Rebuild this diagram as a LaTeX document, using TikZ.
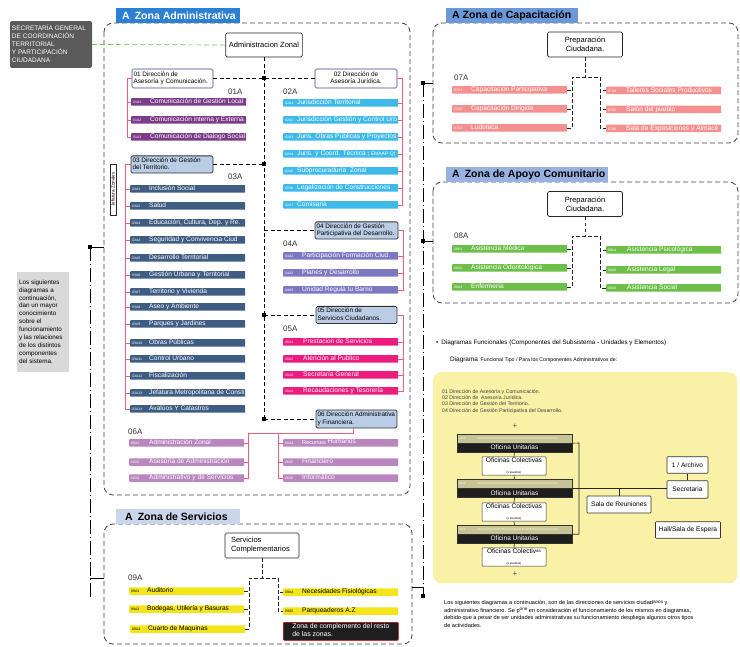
\documentclass[tikz,border=0pt]{standalone}
\usepackage{fontspec}
\setmainfont{Liberation Sans}
\newcommand\fsz[2]{\fontsize{#1pt}{#2pt}\selectfont}
\newcommand\cdf{\fsz{3.5}{4}}
\newcommand\llines[1]{\begin{tabular}{@{}l@{}}#1\end{tabular}}
\newcommand\clines[1]{\begin{tabular}{@{}c@{}}#1\end{tabular}}
\definecolor{cPur}{HTML}{7B3C88}
\definecolor{cCya}{HTML}{3DBAEA}
\definecolor{cNav}{HTML}{3F5D83}
\definecolor{cLav}{HTML}{7C79C2}
\definecolor{cMag}{HTML}{EC1B7D}
\definecolor{cOrc}{HTML}{B986BF}
\definecolor{cYel}{HTML}{F3E51A}
\definecolor{cSal}{HTML}{F4918F}
\definecolor{cGrn}{HTML}{6DBF49}
\definecolor{cLbl}{HTML}{B9CDE5}
\definecolor{cPnk}{HTML}{F0607E}
\definecolor{cT1}{HTML}{2C80D3}
\definecolor{cT2}{HTML}{6B98D8}
\definecolor{cT3}{HTML}{97B2E0}
\definecolor{cT4}{HTML}{C9D5EA}
\definecolor{cSec}{HTML}{5A5A5A}
\definecolor{cGry}{HTML}{D9D9D9}
\definecolor{cPale}{HTML}{F8F1A6}
\definecolor{cKha}{HTML}{C8C394}
\definecolor{cDk}{HTML}{1E1E1E}
\definecolor{cGL}{HTML}{6CBF4A}
\definecolor{cBor}{HTML}{3B3B99}
\definecolor{cZone}{HTML}{444444}
\definecolor{cTxt}{HTML}{333333}
\newcommand\bitem[7][17pt]{\node[bar,fill=#5] (#2) at (#3,#4) {\makebox[111pt][l]{\makebox[#1][l]{\cdf #6}#7}};}
\begin{document}
\begin{tikzpicture}[x=1pt,y=-1pt,
  bar/.style={anchor=west,minimum height=7.5pt,inner xsep=2pt,inner ysep=0pt,text=white,font=\fsz{6.6}{7},rounded corners=0.6pt,text height=4.7pt,text depth=1.3pt},
  dbox/.style={draw=cBor,line width=0.6pt,fill=white,rounded corners=1.5pt,font=\fsz{6.4}{7.4},inner xsep=1.5pt,inner ysep=1.2pt},
  lbox/.style={dbox,fill=cLbl,draw=black!80,line width=0.8pt},
  wbox/.style={draw=black!85,line width=0.7pt,fill=white,rounded corners=1.5pt,font=\fsz{7.5}{8.6}},
  zone/.style={draw=cZone,line width=0.8pt,dash pattern=on 5pt off 3pt,rounded corners=9pt},
  ttl/.style={anchor=north west,inner sep=0pt,minimum height=15pt,font=\bfseries\fsz{10.5}{12}},
  adl/.style={draw=black,line width=0.7pt,dash pattern=on 4pt off 2.5pt},
  sdl/.style={draw=black!85,line width=0.6pt,dash pattern=on 3.5pt off 2.5pt},
  pk/.style={draw=cPnk,line width=0.7pt},
  gline/.style={draw=cGL,line width=0.7pt,dash pattern=on 5pt off 3pt},
  dd/.style={draw=black,line width=0.8pt,dash pattern=on 14pt off 3pt on 1pt off 3pt},
  solid1/.style={draw=black,line width=0.8pt},
  sq/.style={fill=black,minimum size=4pt,inner sep=0pt},
  grp/.style={anchor=west,inner sep=0pt,font=\fsz{8}{9},text=cTxt},
  ofb/.style={draw=black!80,line width=0.5pt,fill=white,align=center,inner sep=1pt,minimum width=64pt,minimum height=18pt,rounded corners=0.8pt},
  outop/.style={draw=black!80,line width=0.5pt,fill=cKha,minimum width=115pt,minimum height=9pt,inner sep=0pt,font=\fsz{3.2}{3.5},text=white!92!yellow},
  oubot/.style={draw=black!80,line width=0.5pt,fill=cDk,minimum width=115pt,minimum height=9pt,inner sep=0pt,font=\fsz{6.5}{7},text=white},
  ln/.style={draw=black!85,line width=0.6pt},
  rbox/.style={draw=black!80,line width=0.6pt,fill=white,font=\fsz{6.6}{7.6},inner sep=1pt,rounded corners=0.8pt},
]
\useasboundingbox (0,0) rectangle (740,647);

% ---------- zones ----------
\draw[zone] (104,23) rectangle (410,495);
\draw[zone] (433,23) rectangle (738,143);
\draw[zone] (433,182) rectangle (738,303);
\draw[zone] (104,524) rectangle (412,644);

\node[ttl,fill=cT1,text=white] (t1) at (116,8) {\makebox[124pt][l]{\hspace{6pt}A\hspace{5pt}Zona Administrativa}};
\node[ttl,fill=cT2] (t2) at (446,8) {\makebox[132pt][l]{\hspace{6pt}A Zona de Capacitación}};
\node[ttl,fill=cT3] (t3) at (446,167) {\makebox[162pt][l]{\hspace{6pt}A\hspace{5pt}Zona de Apoyo Comunitario}};
\node[ttl,fill=cT4] (t4) at (116,509) {\makebox[124pt][l]{\hspace{9pt}A\hspace{5pt}Zona de Servicios}};

% ---------- secretaria ----------
\node[fill=cSec,text=white,rounded corners=1.5pt,inner xsep=2pt,minimum height=43pt,font=\fsz{6.5}{8}] (sec) at (51,44.5) {\makebox[78pt][l]{\llines{SECRETARÍA GENERAL\\DE COORDINACIÓN\\TERRITORIAL\\Y PARTICIPACIÓN\\CIUDADANA}}};
\node[wbox,minimum width=76pt,minimum height=24pt] (az) at (264,45) {Administracion Zonal};
\draw[gline] (sec.east) -- (az.west);

% ---------- direction boxes ----------
\node[dbox,minimum height=19pt] (d01) at (172.5,78.5) {\makebox[78pt][l]{\llines{01 Dirección de\\Asesoría y Comunicación.}}};
\node[dbox,minimum height=19pt] (d02) at (356,78.5) {\makebox[79pt][c]{\clines{02 Dirección de\\Asesoría Jurídica.}}};
\node[lbox,minimum height=17pt] (d03) at (172,164.5) {\makebox[79pt][l]{\llines{03 Dirección de Gestión\\del Territorio.}}};
\node[lbox,minimum height=17pt] (d04) at (356.5,230.5) {\makebox[80pt][l]{\llines{04 Dirección de Gestión\\Participativa del Desarrollo.}}};
\node[lbox,minimum height=16pt] (d05) at (356.5,315) {\makebox[78pt][l]{\llines{05 Dirección de\\Servicios Ciudadanos.}}};
\node[lbox,minimum height=18pt] (d06) at (356.5,419) {\makebox[78pt][l]{\llines{06 Dirección Administrativa\\y Financiera.}}};

% spine
\coordinate (k1) at (264,78.5);
\coordinate (k3) at (264,164.5);
\coordinate (k4) at (264,230.5);
\coordinate (k5) at (264,315);
\coordinate (k6) at (264,419);
\draw[adl] (az.south) -- (k6);
\draw[adl] (d01.east) -- (d02.west);
\draw[adl] (d03.east) -- (k3);
\draw[adl] (k4) -- (d04.west);
\draw[adl] (k5) -- (d05.west);
\draw[adl] (k6) -- (d06.west);
\node[sq] (s1) at (k1) {};
\node[sq] (s3) at (k3) {};
\node[sq] (s5) at (k5) {};
\node[sq] (s6) at (k6) {};

% group labels
\node[grp] (L01) at (228,92) {01A};
\node[grp] (L02) at (283,92) {02A};
\node[grp] (L03) at (228,177) {03A};
\node[grp] (L04) at (283,244) {04A};
\node[grp] (L05) at (283,329) {05A};
\node[grp] (L06) at (128,432) {06A};
\node[grp] (L07) at (454,78) {07A};
\node[grp] (L08) at (454,236) {08A};
\node[grp] (L09) at (128,578) {09A};

% 01A
\bitem{a1}{131}{102}{cPur}{01A1}{Comunicación de Gestión Local}
\bitem{a2}{131}{120}{cPur}{01A2}{Comunicación interna y Externa}
\bitem{a3}{131}{137}{cPur}{01A3}{Comunicación de Dialogo Social}
% 02A
\bitem[12pt]{b1}{283}{103}{cCya}{02A1}{Jurisdicción Territorial}
\bitem[12pt]{b2}{283}{120}{cCya}{02A2}{Jurisdicción Gestión y Control Urb}
\bitem[12pt]{b3}{283}{137}{cCya}{02A3}{Juris. Obras Públicas y Proyectos}
\bitem[12pt]{b4}{283}{154}{cCya}{02A4}{Juris. y Coord. Técnica {\fsz{5}{5}( EMAAP-Q)}}
\bitem[12pt]{b5}{283}{171}{cCya}{02A5}{Subprocuraduría\ \ Zonal}
\bitem[12pt]{b6}{283}{188}{cCya}{02A6}{Legalización de Construcciones}
\bitem[12pt]{b7}{283}{205}{cCya}{02A7}{Comisaria}
% 03A
\bitem{c1}{130}{189}{cNav}{03A1}{Inclusión Social}
\bitem{c2}{130}{206}{cNav}{03A2}{Salud}
\bitem{c3}{130}{223}{cNav}{03A3}{Educación, Cultura, Dep. y Re.}
\bitem{c4}{130}{240}{cNav}{03A4}{Seguridad y Convivencia Ciud}
\bitem{c5}{130}{258}{cNav}{03A5}{Desarrollo Territorial}
\bitem{c6}{130}{275}{cNav}{03A6}{Gestión Urbana y Territorial}
\bitem{c7}{130}{292}{cNav}{03A7}{Territorio y Vivienda}
\bitem{c8}{130}{307}{cNav}{03A8}{Aseo y Ambiente}
\bitem{c9}{130}{324}{cNav}{03A9}{Parques y Jardines}
\bitem{c10}{130}{343}{cNav}{03A10}{Obras Públicas}
\bitem{c11}{130}{359}{cNav}{03A11}{Control Urbano}
\bitem{c12}{130}{376}{cNav}{03A12}{Fiscalización}
\bitem{c13}{130}{393}{cNav}{03A13}{Jefatura Metropolitana de Consti}
\bitem{c14}{130}{409}{cNav}{03A14}{Avalúos Y Catastros}
% 04A
\bitem{e1}{283}{256}{cLav}{04A1}{Participación Formación Ciud.}
\bitem{e2}{283}{273}{cLav}{04A2}{Planes y Desarrollo}
\bitem{e3}{283}{290}{cLav}{04A3}{Unidad Regula tu Barrio}
% 05A
\bitem[18pt]{f1}{283}{342}{cMag}{05A1}{Prestacion de Servicios}
\bitem[18pt]{f2}{283}{359}{cMag}{05A2}{Atención al Publico}
\bitem[18pt]{f3}{283}{375}{cMag}{05A3}{Secretaría General}
\bitem[18pt]{f4}{283}{391}{cMag}{05A4}{Recaudaciones y Tesorería}
% 06A
\bitem[18pt]{g1}{129}{443}{cOrc}{06A1}{Administración Zonal}
\bitem[18pt]{g2}{129}{462}{cOrc}{06A2}{Asesoría de Administración}
\bitem[18pt]{g3}{129}{478}{cOrc}{06A3}{Administrativo y de Servicios}
\bitem{g4}{283}{443}{cOrc}{06A4}{{\fsz{5.6}{6}Recursos} \raisebox{1pt}{Humanos}}
\bitem{g5}{283}{462}{cOrc}{06A5}{Financiero}
\bitem{g6}{283}{478}{cOrc}{06A6}{Informático}

% Jefatura Zonales
\node[draw=black!85,line width=0.5pt,fill=white,rotate=90,font=\fsz{4.6}{5},inner sep=0.8pt,minimum width=51pt,minimum height=6pt] (jz) at (113,189.5) {Jefatura Zonales};

% pink brackets
\draw[pk] (d01.west) -| ([xshift=-4pt]a3.west) -- (a3.west);
\foreach \n in {a1,a2} \draw[pk] (\n.west) -- ++(-4,0);
\draw[pk] (d02.east) -| ([xshift=4pt]b7.east) -- (b7.east);
\foreach \n in {b1,b2,b3,b4,b5,b6} \draw[pk] (\n.east) -- ++(4,0);
\draw[pk] (d03.west) -| ([xshift=-5pt]c14.west) -- (c14.west);
\foreach \n in {c1,c2,c3,c4,c5,c6,c7,c8,c9,c10,c11,c12,c13} \draw[pk] (\n.west) -- ++(-5,0);
\draw[pk] (d04.east) -| ([xshift=5pt]e3.east) -- (e3.east);
\foreach \n in {e1,e2} \draw[pk] (\n.east) -- ++(5,0);
\draw[pk] (d05.east) -| ([xshift=5pt]f4.east) -- (f4.east);
\foreach \n in {f1,f2,f3} \draw[pk] (\n.east) -- ++(5,0);
\coordinate (j6) at (353,433);
\coordinate (j6L) at (248,433);
\coordinate (j6R) at (278,433);
\draw[pk] (d06.south -| j6) -- (j6) -- (j6L) |- (g3.east);
\foreach \n in {g1,g2} \draw[pk] (\n.east) -- (\n.east -| j6L);
\draw[pk] (j6R) |- (g6.west);
\foreach \n in {g4,g5} \draw[pk] (\n.west) -- (\n.west -| j6R);

% ---------- Capacitación ----------
\node[wbox,minimum width=75pt,minimum height=25pt,align=center] (p7) at (585,44.5) {Preparación\\Ciudadana.};
\bitem{q1}{452}{90}{cSal}{07A1}{Capacitación Participativa}
\bitem{q2}{452}{109}{cSal}{07A2}{Capacitación Dirigida}
\bitem{q3}{452}{128}{cSal}{07A3}{Ludoteca}
\bitem[18pt]{q4}{606}{90.5}{cSal}{07A4}{Talleres Sociales Productivos}
\bitem[18pt]{q5}{606}{109.5}{cSal}{07A5}{Salón del pueblo}
\bitem[18pt]{q6}{606}{128.5}{cSal}{07A6}{Sala de Exposiciones y Almacé}
\coordinate (h7) at (585,77);
\draw[sdl] (p7.south) -- (h7);
\draw[sdl] (q3.east) -| (572,77) -- (600,77) |- (q6.west);
\foreach \n in {q1,q2} \draw[sdl] (\n.east) -- ++(6,0);
\foreach \n in {q4,q5} \draw[sdl] (\n.west) -- ++(-6,0);

% ---------- Apoyo Comunitario ----------
\node[wbox,minimum width=75pt,minimum height=25pt,align=center] (p8) at (585,204) {Preparación\\Ciudadana.};
\bitem{r1}{452}{249}{cGrn}{08A1}{Asistencia Médica}
\bitem{r2}{452}{268}{cGrn}{08A2}{Asistencia Odontológica}
\bitem{r3}{452}{287}{cGrn}{08A3}{Enfermería}
\bitem[19pt]{r4}{606}{250}{cGrn}{08A4}{Asistencia Psicológica}
\bitem[19pt]{r5}{606}{270}{cGrn}{08A5}{Asistencia Legal}
\bitem[19pt]{r6}{606}{288}{cGrn}{08A6}{Asistencia Social}
\coordinate (h8) at (585,236);
\draw[sdl] (p8.south) -- (h8);
\draw[sdl] (r3.east) -| (572,236) -- (600,236) |- (r6.west);
\foreach \n in {r1,r2} \draw[sdl] (\n.east) -- ++(6,0);
\foreach \n in {r4,r5} \draw[sdl] (\n.west) -- ++(-6,0);

% ---------- Servicios ----------
\node[wbox,inner xsep=6pt,minimum height=25pt] (sc) at (262,545.5) {\makebox[62pt][l]{\llines{Servicios\\Complementarios}}};
\bitem[16pt]{v1}{129}{591}{cYel,text=black}{09A1}{Auditorio}
\bitem[16pt]{v2}{129}{609}{cYel,text=black}{09A2}{Bodegas, Utilería y Basuras}
\bitem[16pt]{v3}{130}{629}{cYel,text=black}{09A3}{Cuarto de Maquinas}
\bitem{v4}{283}{592}{cYel,text=black}{09A4}{Necesidades Fisiológicas}
\bitem{v5}{283}{611}{cYel,text=black}{09A5}{Parqueaderos A.Z}
\coordinate (h9) at (262,578);
\draw[sdl] (sc.south) -- (h9);
\draw[sdl] (v3.east) -| (249,578) -- (278,578) |- (v5.west);
\foreach \n in {v1,v2} \draw[sdl] (\n.east) -- ++(5,0);
\draw[sdl] (v4.west) -- ++(-5,0);
\node[fill=cDk,draw=red!75!black,line width=0.7pt,text=white,inner xsep=9pt,inner ysep=1pt,minimum height=18pt,font=\fsz{6.9}{8},anchor=north west,rounded corners=1pt] (zc) at (283,622) {\makebox[97pt][l]{\llines{Zona de complemento del resto\\de las zonas.}}};

% ---------- outer dash-dot links ----------
\node[sq] (sL) at (90,247) {};
\coordinate (bL1) at (104,247);
\coordinate (bL2) at (104,578);
\coordinate (eL) at (90,600);
\draw[solid1] (sL.center) -- (bL1);
\draw[dd] (sL.center) -- (eL);
\draw[solid1] (bL2 -| eL) -- (bL2);
\node[sq] (sR1) at (423,83) {};
\node[sq] (sR2) at (423,241) {};
\node[sq] (sR3) at (423,596) {};
\coordinate (bR1) at (433,83);
\coordinate (bR2) at (433,241);
\coordinate (bR3) at (412,587);
\draw[solid1] (sR1.center) -- (bR1);
\draw[solid1] (sR2.center) -- (bR2);
\draw[dd] (sR1.center) -- (sR3.center);
\draw[solid1] (bR3) -| (sR3.center);

% left gray note
\node[fill=cGry,inner xsep=2pt,minimum height=100pt,anchor=north west,font=\fsz{6.3}{7.9}] (gnote) at (17,272) {\makebox[48pt][l]{\llines{Los siguientes\\diagramas a\\continuación,\\dan un mayor\\conocimiento\\sobre el\\funcionamiento\\y las relaciones\\de los distintos\\componentes\\del sistema.}}};

% ---------- functional diagram ----------
\node[anchor=west,inner sep=0pt,font=\fsz{6.3}{7}] (bul) at (436,343) {\textbullet\hspace{3pt}Diagramas Funcionales (Componentes del Subsistema - Unidades y Elementos)};
\node[anchor=west,inner sep=0pt] (dtit) at (450,360) {{\fsz{6.4}{7}Diagrama} {\fsz{5.2}{6}Funcional Tipo / Para los Componentes Administrativos de:}};
\node[fill=cPale,rounded corners=8pt,minimum width=304pt,minimum height=211pt,anchor=north west,inner sep=0pt] (ybox) at (433,372) {};
\node[anchor=north west,inner sep=0pt,font=\fsz{5.2}{6.2},text=black!75] (ylist) at (442,389) {\llines{01 Dirección de Asesoría y Comunicación.\\02 Dirección de\ \ Asesoría Jurídica.\\03 Dirección de Gestión del Territorio.\\04 Dirección de Gestión Participativa del Desarrollo.}};
\node[font=\fsz{8}{8},text=black!70,inner sep=0pt] (pl1) at (515,426) {+};
\node[font=\fsz{8}{8},text=black!70,inner sep=0pt] (pl2) at (515,574) {+};

\node[outop] (u1t) at (514.5,438.5) {\makebox[111pt][l]{\makebox[18pt][l]{xxxx}xxxxxxxxxxxxxxxxxxxxxxxxxxxxxxxxxxxxxxxxxxxxxxxxxxx}};
\node[oubot] (u1b) at (514.5,447.5) {Oficina Unitarias};
\node[outop] (u2t) at (514.5,484) {\makebox[111pt][l]{\makebox[18pt][l]{xxxx}xxxxxxxxxxxxxxxxxxxxxxxxxxxxxxxxxxxxxxxxxxxxxxxxxxx}};
\node[oubot] (u2b) at (514.5,493) {Oficina Unitarias};
\node[outop] (u3t) at (514.5,529.5) {\makebox[111pt][l]{\makebox[18pt][l]{xxxx}xxxxxxxxxxxxxxxxxxxxxxxxxxxxxxxxxxxxxxxxxxxxxxxxxxx}};
\node[oubot] (u3b) at (514.5,538.5) {Oficina Unitarias};
\node[ofb] (oc1) at (514,466) {{\fsz{6.6}{7}Oficinas Colectivas}\\[-1pt]{\fsz{3}{3}(x puestos)}};
\node[ofb] (oc2) at (514,512) {{\fsz{6.6}{7}Oficinas Colectivas}\\[-1pt]{\fsz{3}{3}(x puestos)}};
\node[ofb] (oc3) at (514,557) {{\fsz{6.6}{7}Oficinas Colectiv\raisebox{1.5pt}{\fsz{4.5}{5}as}}\\[-1pt]{\fsz{3}{3}(x puestos)}};
\draw[ln] (u1b.south) -- (oc1.north);
\draw[ln] (oc1.south) -- (u2t.north);
\draw[ln] (u2b.south) -- (oc2.north);
\draw[ln] (oc2.south) -- (u3t.north);
\draw[ln] (u3b.south) -- (oc3.north);

\node[rbox,minimum width=41pt,minimum height=16.5pt] (arc) at (687.5,465) {1 / Archivo};
\node[rbox,minimum width=41pt,minimum height=17.5pt] (secr) at (687.5,489.5) {Secretaria};
\node[rbox,minimum width=64pt,minimum height=17pt] (sr) at (619,504.5) {Sala de Reuniones};
\node[rbox,minimum width=65pt,minimum height=16.5pt] (hall) at (688,530) {Hall/Sala de Espera};
\coordinate (rl) at (579,443);
\draw[ln] (u1t.south east) -- (rl) |- (u3t.south east);
\draw[ln] (u2t.south east) -- (u2t.south east -| secr.west);
\draw[ln] (sr.north |- u2t.south east) -- (sr.north);
\draw[ln] (arc.south) -- (secr.north);

% bottom paragraph
\node[anchor=north west,inner sep=0pt,font=\fsz{5.6}{7.7}] (para) at (444,599) {\llines{Los siguientes diagramas a continuación, son de las direcciones de servicios ciudad\raisebox{1.5pt}{\fsz{4.6}{5}anos} y\\administrativo financiero. Se p\raisebox{1.5pt}{\fsz{4.6}{5}one} en consideración el funcionamiento de los mismos en diagramas,\\debido que a pesar de ser unidades administrativas su funcionamiento despliega algunos otros tipos\\de actividades.}};
\end{tikzpicture}
\end{document}
